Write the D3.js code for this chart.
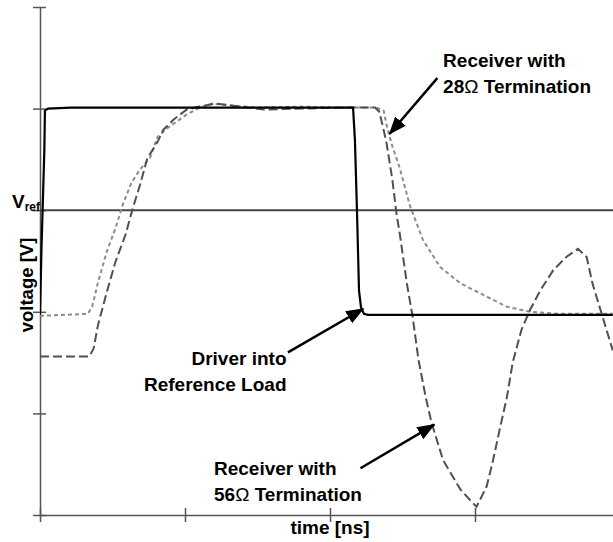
<!DOCTYPE html>
<html>
<head>
<meta charset="utf-8">
<script src="https://cdn.jsdelivr.net/npm/d3@7"></script>
<style>
  body { margin: 0; background: #fff; }
  text { font-family: "Liberation Sans", Arial, sans-serif; font-weight: bold; fill: #000; }
</style>
</head>
<body>
<div id="chart"></div>
<script>
// time [ns] and voltage [V] in arbitrary chart units (ticks every 1 unit)
const xTicks = [0, 1, 2, 3, 4];
const yTicks = [0, 1, 2, 3, 4, 5];
const vref = 3;

const driverT = [0, 0.01, 0.03, 0.034, 0.055, 0.21, 2.159, 2.172, 2.186, 2.2, 2.214, 2.234, 2.262, 3.95];
const driverV = [1.97, 2.61, 3.59, 3.98, 4.0, 4.01, 4.01, 3.69, 3.0, 2.21, 2.04, 1.98, 1.97, 1.97];

const rx28T = [0, 0.33, 0.36, 0.4, 0.46, 0.52, 0.57, 0.63, 0.69, 0.76, 0.81, 0.88, 0.94, 1.01, 1.1, 1.19,
  1.31, 1.52, 1.79, 2.07, 2.32, 2.37, 2.39, 2.43, 2.48, 2.55, 2.64, 2.76, 2.9, 3.08, 3.22, 3.38, 3.59, 3.95];
const rx28V = [1.96, 1.98, 2.05, 2.29, 2.59, 2.82, 3.05, 3.27, 3.4, 3.52, 3.72, 3.81, 3.87, 3.94, 4.01, 4.05,
  4.03, 4.01, 4.02, 4.01, 4.01, 3.98, 3.84, 3.63, 3.42, 3.05, 2.71, 2.44, 2.28, 2.15, 2.05, 2.0, 1.98, 1.98];

const rx56T = [0, 0.34, 0.37, 0.4, 0.46, 0.52, 0.59, 0.64, 0.69, 0.74, 0.81, 0.85, 0.92, 1.01, 1.1, 1.21,
  1.38, 1.54, 1.79, 2.07, 2.31, 2.34, 2.37, 2.39, 2.43, 2.46, 2.48, 2.53, 2.57, 2.61, 2.66, 2.7, 2.78, 2.9,
  3.01, 3.08, 3.12, 3.17, 3.22, 3.26, 3.32, 3.38, 3.45, 3.54, 3.63, 3.71, 3.77, 3.81, 3.88, 3.95];
const rx56V = [1.56, 1.56, 1.64, 1.87, 2.19, 2.49, 2.76, 3.02, 3.25, 3.51, 3.67, 3.79, 3.89, 3.99, 4.02, 4.05,
  4.02, 3.99, 4.0, 4.01, 4.01, 3.97, 3.79, 3.66, 3.3, 2.95, 2.78, 2.28, 1.95, 1.53, 1.16, 0.91, 0.54, 0.25,
  0.08, 0.28, 0.51, 0.84, 1.16, 1.5, 1.82, 2.02, 2.21, 2.41, 2.54, 2.62, 2.54, 2.28, 1.95, 1.62];

// annotations: label lines [before Ω, Ω, after] and arrows (tail -> tip)
const labels = [
  { lines: [["Receiver with"], ["28", "\u03A9", " Termination"]], t: 2.78, v: 4.41, anchor: "start" },
  { lines: [["Driver into"], ["Reference Load"]], t: 1.70, v: 1.48, anchor: "end" },
  { lines: [["Receiver with"], ["56", "\u03A9", " Termination"]], t: 1.20, v: 0.39, anchor: "start" }
];
const arrows = [
  { t0: 2.74, v0: 4.30, t1: 2.41, v1: 3.75 },
  { t0: 1.71, v0: 1.60, t1: 2.23, v1: 2.03 },
  { t0: 2.21, v0: 0.46, t1: 2.72, v1: 0.89 }
];

const W = 613, H = 542;
const svg = d3.select("#chart").append("svg")
  .attr("width", W).attr("height", H);

const x = d3.scaleLinear().domain([0, 4]).range([40, 620]);
const y = d3.scaleLinear().domain([0, 5]).range([515, 7]);

svg.append("defs").append("marker")
  .attr("id", "head")
  .attr("markerUnits", "userSpaceOnUse")
  .attr("viewBox", "0 -8 18 16")
  .attr("markerWidth", 18).attr("markerHeight", 16)
  .attr("refX", 17).attr("refY", 0)
  .attr("orient", "auto")
  .append("path").attr("d", "M0,-7L18,0L0,7Z").attr("fill", "#000");

svg.select("defs").append("clipPath").attr("id", "plot")
  .append("rect").attr("x", 40).attr("y", 0).attr("width", W - 40).attr("height", 520);

// axes
const yAxis = svg.append("g")
  .attr("transform", "translate(40,0)")
  .call(d3.axisLeft(y).tickValues(yTicks).tickFormat("").tickSizeOuter(0));
yAxis.selectAll(".tick line").attr("x1", -7).attr("x2", 6);

const xAxis = svg.append("g")
  .attr("transform", "translate(0,515)")
  .call(d3.axisBottom(x).tickValues(xTicks).tickFormat("").tickSizeOuter(0));
xAxis.selectAll(".tick line").attr("y1", -7).attr("y2", 7);

svg.selectAll(".domain, .tick line").attr("stroke", "#555").attr("stroke-width", 1.5);

// Vref line
svg.append("line")
  .attr("x1", x(0)).attr("x2", W)
  .attr("y1", y(vref)).attr("y2", y(vref))
  .attr("stroke", "#444").attr("stroke-width", 2);

const line = d3.line().x(d => x(d[0])).y(d => y(d[1]));
const plot = svg.append("g").attr("clip-path", "url(#plot)");

plot.append("path")
  .attr("d", line(d3.zip(rx28T, rx28V)))
  .attr("fill", "none").attr("stroke", "#8c8c8c").attr("stroke-width", 2)
  .attr("stroke-dasharray", "4,3");

plot.append("path")
  .attr("d", line(d3.zip(rx56T, rx56V)))
  .attr("fill", "none").attr("stroke", "#505050").attr("stroke-width", 2)
  .attr("stroke-dasharray", "9,4");

plot.append("path")
  .attr("d", line(d3.zip(driverT, driverV)))
  .attr("fill", "none").attr("stroke", "#000").attr("stroke-width", 2.2);

// arrows
svg.selectAll(".arrow")
  .data(arrows)
  .join("line")
  .attr("class", "arrow")
  .attr("x1", d => x(d.t0)).attr("y1", d => y(d.v0))
  .attr("x2", d => x(d.t1)).attr("y2", d => y(d.v1))
  .attr("stroke", "#000").attr("stroke-width", 2.5)
  .attr("marker-end", "url(#head)");

// labels
labels.forEach(l => {
  l.lines.forEach((parts, i) => {
    const t = svg.append("text")
      .attr("x", x(l.t)).attr("y", y(l.v) + i * 26)
      .attr("text-anchor", l.anchor)
      .attr("font-size", 19);
    parts.forEach((s, j) => {
      t.append("tspan").attr("font-weight", j === 1 ? "normal" : null).text(s);
    });
  });
});

// Vref label
const vt = svg.append("text").attr("x", 12).attr("y", y(vref) - 2).attr("font-size", 19);
vt.append("tspan").text("V");
vt.append("tspan").attr("font-size", 12).attr("dy", 3).text("ref");

// axis titles
svg.append("text")
  .attr("transform", "translate(33,285) rotate(-90)")
  .attr("text-anchor", "middle").attr("font-size", 18.5)
  .text("voltage [V]");

svg.append("text")
  .attr("x", x(2)).attr("y", 534)
  .attr("text-anchor", "middle").attr("font-size", 19)
  .text("time [ns]");
</script>
</body>
</html>
